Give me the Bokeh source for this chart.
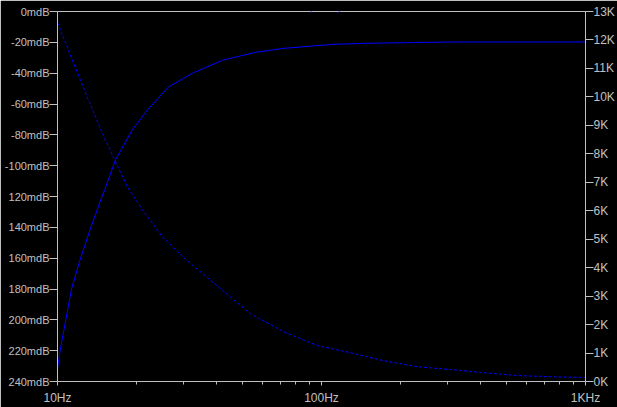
from bokeh.plotting import figure
from bokeh.models import Range1d, LinearAxis, FixedTicker, Label
from bokeh.embed import file_html
from bokeh.resources import INLINE

# ---- data ----
mag_freq = [10, 10.26, 11.3, 12.2, 13.3, 14.6, 15.1, 16.6, 19.2, 21.9, 26.3, 32.5,
            42.2, 56.2, 71.8, 111, 149, 308, 1000]
mag_mdb = [-231.6, -218.7, -180.0, -160.6, -141.3, -121.9, -115.5, -96.1, -76.8, -63.9,
           -49.0, -40.0, -31.6, -26.5, -23.9, -21.3, -20.6, -19.8, -19.8]

sec_freq = [10.0, 10.63, 11.71, 12.95, 14.76, 16.29, 18.36, 20.92, 24.88, 30.5, 53.8,
            71.8, 96.6, 128.8, 172, 231, 308, 411, 552, 736, 1000]
sec_k = [12.62, 11.99, 11.01, 10.0, 8.74, 7.87, 6.85, 6.05, 5.10, 4.30, 2.38,
         1.75, 1.26, 1.01, 0.73, 0.52, 0.42, 0.31, 0.21, 0.17, 0.14]

x_ticks = [10, 100, 1000]
x_tick_labels = ["10Hz", "100Hz", "1KHz"]
x_minor = [20, 30, 40, 50, 60, 70, 80, 90, 200, 300, 400, 500, 600, 700, 800, 900]

left_ticks = [0, -20, -40, -60, -80, -100, -120, -140, -160, -180, -200, -220, -240]
left_tick_labels = ["0mdB", "-20mdB", "-40mdB", "-60mdB", "-80mdB", "-100mdB", "120mdB",
                    "140mdB", "160mdB", "180mdB", "200mdB", "220mdB", "240mdB"]

right_ticks = list(range(0, 14))
right_tick_labels = ["%dK" % v for v in right_ticks]

title_text = "V(n003)"

# ---- styling ----
GRAY = "#c0c0c0"
BLUE = "#0000ff"
FONT = "Liberation Sans"

p = figure(width=617, height=407, x_axis_type="log",
           x_range=Range1d(10, 1000), y_range=Range1d(-240, 0),
           output_backend="svg", toolbar_location=None, title=None,
           background_fill_color="black", border_fill_color="black",
           min_border_left=57, min_border_right=32, min_border_top=11,
           min_border_bottom=24)
p.grid.visible = False
p.outline_line_color = GRAY
p.outline_line_width = 1

p.extra_y_ranges = {"right": Range1d(0, 13)}
raxis = LinearAxis(y_range_name="right")
p.add_layout(raxis, "right")

p.xaxis.ticker = FixedTicker(ticks=x_ticks, minor_ticks=x_minor)
p.xaxis.major_label_overrides = dict(zip(x_ticks, x_tick_labels))
p.yaxis[0].ticker = FixedTicker(ticks=left_ticks)
p.yaxis[0].major_label_overrides = dict(zip(left_ticks, left_tick_labels))
raxis.ticker = FixedTicker(ticks=right_ticks)
raxis.major_label_overrides = dict(zip(right_ticks, right_tick_labels))

for ax in p.axis:
    ax.axis_line_color = GRAY
    ax.major_tick_line_color = GRAY
    ax.minor_tick_line_color = GRAY
    ax.major_label_text_color = GRAY
    ax.major_label_text_font = FONT
    ax.major_label_text_font_size = "12px"
    ax.major_tick_in = 0
    ax.minor_tick_in = 0
    ax.axis_label_standoff = 0
for ax in [p.yaxis[0], raxis]:
    ax.major_tick_out = 8
    ax.major_label_standoff = 0
    ax.minor_tick_line_color = None
p.yaxis[0].major_label_text_font_size = "11px"
p.xaxis.major_tick_out = 4
p.xaxis.minor_tick_out = 3
p.xaxis.major_label_standoff = 5

p.line(mag_freq, mag_mdb, line_color=BLUE, line_width=1)
p.line(sec_freq, sec_k, y_range_name="right", line_color=BLUE, line_width=1,
       line_dash="3 2")

p.add_layout(Label(x=100, y=0, text=title_text, text_color="#0000e0",
                   text_align="center", text_baseline="top", y_offset=11,
                   text_font=FONT, text_font_size="11px"))

html = file_html(p, INLINE)
html = html.replace("<body>", '<body style="background-color:black;">', 1)
open("out.html", "w").write(html)
